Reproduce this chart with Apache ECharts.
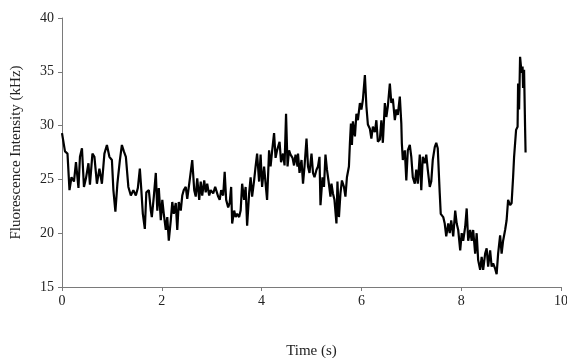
<!DOCTYPE html>
<html>
<head>
<meta charset="utf-8">
<script src="https://cdn.jsdelivr.net/npm/echarts@6/dist/echarts.min.js"></script>
<style>
  html, body { margin: 0; padding: 0; background: #fff; }
  #chart { width: 567px; height: 358px; }
</style>
</head>
<body>
<div id="chart"></div>
<script>
// time points (s) and intensity (kHz)
let times = [
  0.00, 0.06, 0.11, 0.15, 0.19, 0.24, 0.28, 0.33, 0.36, 0.40, 0.44, 0.48, 0.53, 0.56, 0.61, 0.65, 0.70, 0.75, 0.80, 0.85,
  0.90, 0.95, 1.00, 1.03, 1.07, 1.11, 1.16, 1.20, 1.24, 1.28, 1.33, 1.38, 1.43, 1.48, 1.52, 1.56, 1.59, 1.62, 1.66, 1.69,
  1.74, 1.78, 1.80, 1.84, 1.88, 1.91, 1.94, 1.98, 2.01, 2.04, 2.08, 2.11, 2.14, 2.18, 2.21, 2.24, 2.28, 2.31, 2.34, 2.38,
  2.41, 2.44, 2.48, 2.51, 2.55, 2.58, 2.61, 2.65, 2.68, 2.71, 2.75, 2.78, 2.81, 2.85, 2.88, 2.91, 2.95, 2.98, 3.03, 3.07,
  3.13, 3.16, 3.19, 3.23, 3.26, 3.29, 3.33, 3.36, 3.39, 3.41, 3.45, 3.48, 3.51, 3.55, 3.58, 3.61, 3.65, 3.68, 3.71, 3.75,
  3.78, 3.81, 3.85, 3.88, 3.91, 3.95, 3.98, 4.01, 4.05, 4.08, 4.11, 4.15, 4.18, 4.21, 4.25, 4.28, 4.31, 4.36, 4.39, 4.43,
  4.46, 4.49, 4.52, 4.55, 4.58, 4.62, 4.65, 4.68, 4.72, 4.73, 4.76, 4.80, 4.83, 4.86, 4.90, 4.93, 4.96, 5.00, 5.03, 5.06,
  5.10, 5.13, 5.16, 5.18, 5.22, 5.25, 5.28, 5.31, 5.34, 5.38, 5.40, 5.43, 5.46, 5.50, 5.52, 5.55, 5.58, 5.61, 5.65, 5.68,
  5.71, 5.75, 5.77, 5.79, 5.81, 5.83, 5.87, 5.90, 5.93, 5.97, 6.00, 6.03, 6.07, 6.10, 6.13, 6.17, 6.20, 6.23, 6.27, 6.30,
  6.33, 6.37, 6.40, 6.43, 6.47, 6.50, 6.53, 6.57, 6.60, 6.63, 6.67, 6.70, 6.73, 6.77, 6.80, 6.81, 6.83, 6.87, 6.90, 6.93,
  6.97, 7.00, 7.03, 7.07, 7.10, 7.13, 7.17, 7.20, 7.23, 7.27, 7.30, 7.33, 7.37, 7.40, 7.43, 7.47, 7.50, 7.53, 7.57, 7.59,
  7.64, 7.67, 7.70, 7.74, 7.77, 7.80, 7.84, 7.88, 7.91, 7.94, 7.98, 8.01, 8.04, 8.08, 8.11, 8.14, 8.18, 8.21, 8.24, 8.28,
  8.31, 8.34, 8.38, 8.41, 8.44, 8.48, 8.51, 8.54, 8.58, 8.61, 8.64, 8.68, 8.71, 8.74, 8.78, 8.81, 8.84, 8.88, 8.91, 8.94,
  8.98, 9.01, 9.04, 9.06, 9.10, 9.13, 9.14, 9.16, 9.18, 9.21, 9.23, 9.24, 9.26, 9.28, 9.29
];
let intensity = [
  29.3, 27.6, 27.4, 24.0, 25.2, 24.8, 26.6, 24.2, 27.1, 27.9, 24.3, 25.1, 26.5, 24.5, 27.4, 27.1, 24.6, 26.0, 24.6, 27.4,
  28.2, 27.1, 26.8, 24.0, 22.0, 24.6, 26.8, 28.2, 27.6, 27.1, 24.3, 23.5, 24.0, 23.5, 24.2, 26.0, 24.0, 21.8, 20.4, 23.8,
  24.0, 22.1, 21.5, 23.4, 25.6, 22.1, 24.2, 21.2, 23.1, 21.8, 20.3, 21.5, 19.3, 21.2, 22.9, 21.8, 22.8, 20.3, 22.9, 22.1,
  23.5, 24.0, 24.3, 23.2, 24.6, 24.5, 26.8, 24.0, 23.4, 25.1, 23.1, 24.8, 23.5, 24.9, 23.8, 24.6, 23.5, 24.0, 23.7, 24.3,
  23.4, 23.1, 24.0, 23.5, 25.7, 23.1, 22.4, 22.8, 24.3, 20.9, 22.1, 21.5, 21.8, 21.5, 22.1, 24.6, 23.1, 24.3, 20.7, 23.7,
  25.2, 23.4, 24.9, 26.2, 27.4, 24.8, 27.3, 24.3, 26.2, 24.6, 23.1, 27.7, 26.2, 27.6, 29.3, 27.0, 27.7, 28.5, 26.6, 27.4,
  26.3, 31.1, 26.2, 27.7, 27.3, 27.0, 26.3, 27.3, 26.2, 27.4, 25.6, 26.8, 24.6, 26.2, 28.8, 26.2, 25.6, 27.4, 25.6, 25.2,
  25.9, 26.2, 27.1, 22.6, 25.2, 24.3, 27.3, 25.9, 24.9, 23.4, 24.6, 23.7, 23.1, 20.9, 24.8, 21.5, 23.7, 24.9, 24.3, 23.4,
  25.2, 26.2, 28.4, 30.2, 28.2, 30.4, 29.0, 31.1, 30.5, 32.1, 31.5, 32.4, 34.7, 31.8, 30.1, 29.7, 28.8, 29.9, 29.4, 30.5,
  28.5, 28.7, 30.5, 28.4, 32.1, 30.8, 31.8, 33.9, 32.1, 32.5, 30.5, 31.5, 31.0, 32.7, 30.2, 28.4, 26.8, 27.7, 24.9, 27.7,
  28.2, 27.1, 25.2, 24.6, 25.9, 24.6, 27.3, 24.0, 27.1, 26.5, 27.3, 25.9, 24.3, 24.8, 26.8, 28.0, 28.4, 27.9, 23.7, 21.8,
  21.5, 20.9, 19.7, 20.9, 20.0, 21.2, 19.7, 22.1, 20.9, 20.3, 18.4, 20.0, 19.3, 20.6, 22.3, 19.3, 20.3, 19.3, 20.3, 18.1,
  20.0, 17.5, 16.6, 17.8, 16.6, 18.1, 18.6, 16.9, 18.4, 16.9, 17.2, 16.7, 16.2, 18.1, 19.8, 18.1, 19.3, 20.3, 21.2, 23.1,
  22.6, 22.8, 25.2, 27.1, 29.6, 29.9, 33.9, 31.5, 36.4, 34.9, 35.5, 33.5, 35.2, 29.9, 27.5
];

let chart = echarts.init(document.getElementById('chart'));
let font = '"Liberation Serif", "Times New Roman", serif';
let axisColor = '#7a7a7a';

let points = [];
for (let i = 0; i < times.length; i++) {
  points.push([times[i], intensity[i]]);
}

let option = {
  animation: false,
  backgroundColor: '#fff',
  grid: { left: 62, right: 6, top: 18, bottom: 71, outerBoundsMode: 'none', containLabel: false },
  xAxis: {
    type: 'value',
    min: 0, max: 10, interval: 2,
    name: 'Time (s)',
    nameLocation: 'middle',
    nameGap: 57,
    nameTextStyle: { fontFamily: font, fontSize: 15, color: '#222' },
    axisLine: { lineStyle: { color: axisColor, width: 1 } },
    axisTick: { show: true, length: 4, lineStyle: { color: axisColor } },
    axisLabel: { fontFamily: font, fontSize: 14, color: '#222', margin: 7 },
    splitLine: { show: false }
  },
  yAxis: {
    type: 'value',
    min: 15, max: 40, interval: 5,
    name: 'Fluorescence Intensity (kHz)',
    nameLocation: 'middle',
    nameGap: 38,
    nameTextStyle: { fontFamily: font, fontSize: 15, color: '#222' },
    axisLine: { show: true, lineStyle: { color: axisColor, width: 1 } },
    axisTick: { show: true, length: 4, lineStyle: { color: axisColor } },
    axisLabel: { fontFamily: font, fontSize: 14, color: '#222', margin: 8 },
    splitLine: { show: false }
  },
  series: [{
    type: 'line',
    data: points,
    showSymbol: false,
    lineStyle: { color: '#000', width: 2.2 }
  }]
};

chart.setOption(option);
</script>
</body>
</html>
